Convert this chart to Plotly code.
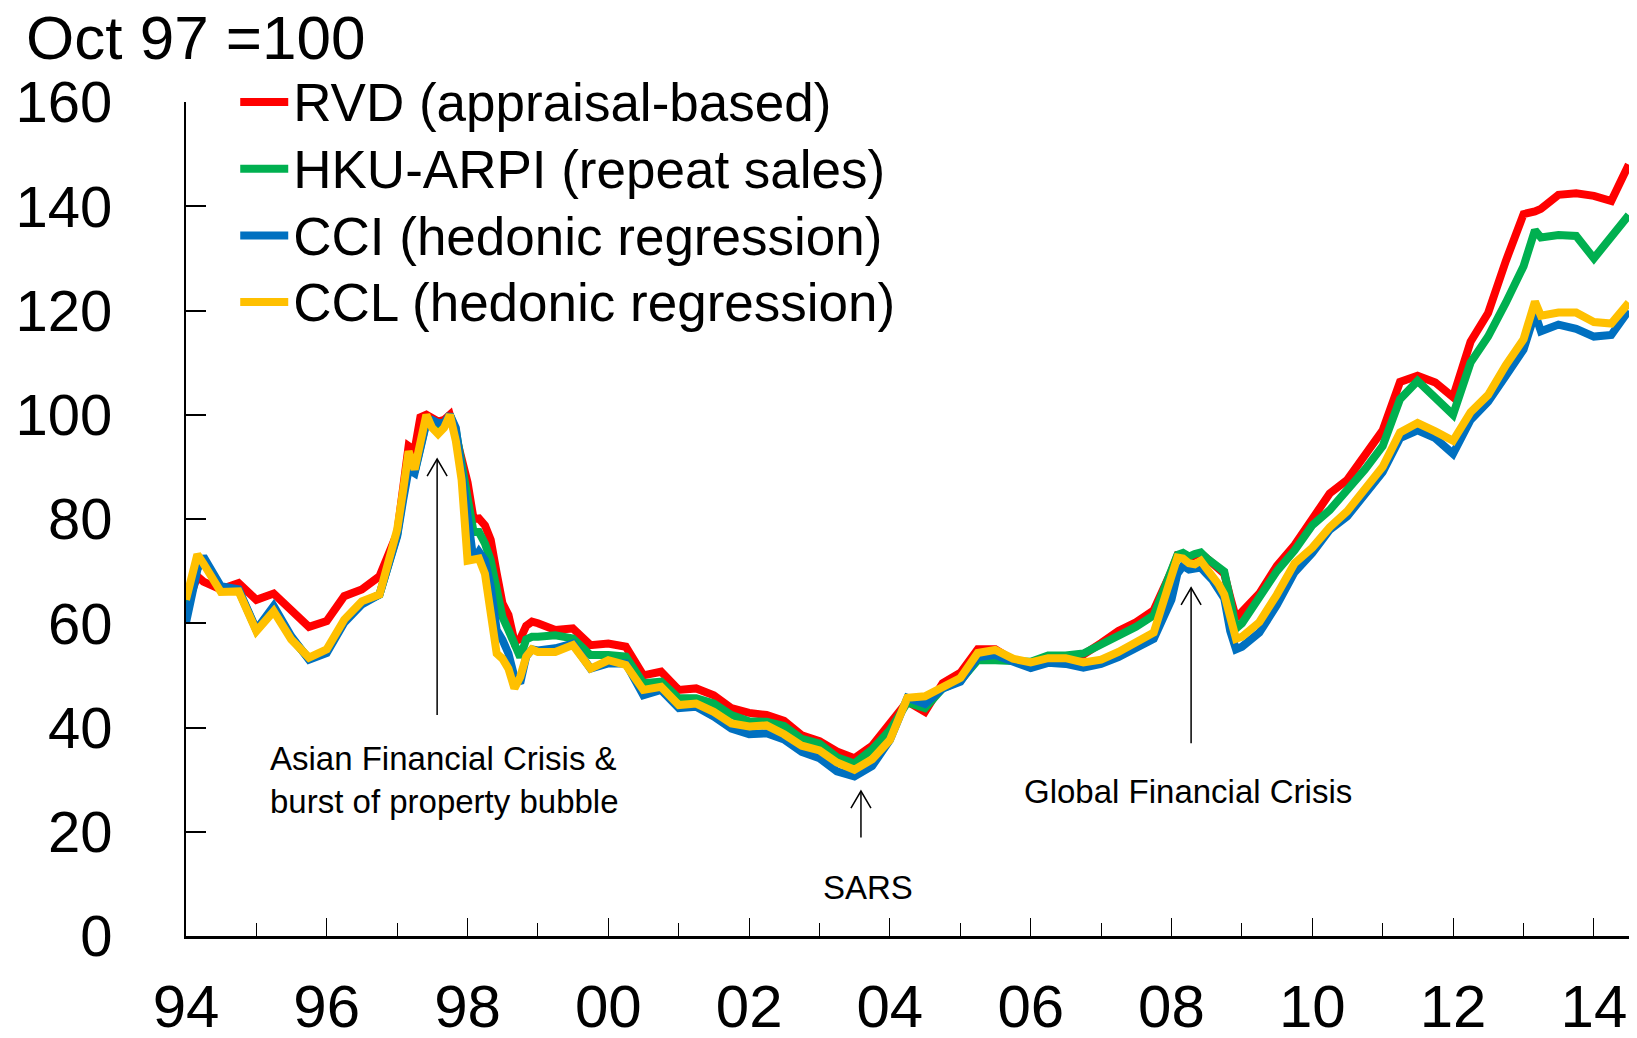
import plotly.graph_objects as go

dates = (
    ["1994-01", "1994-03", "1994-04", "1994-07", "1994-10",
     "1995-01", "1995-04", "1995-07", "1995-10",
     "1996-01", "1996-04", "1996-07", "1996-10"]
    + ["1997-%02d" % m for m in range(1, 13)]
    + ["1998-%02d" % m for m in range(1, 13)]
    + ["1999-01", "1999-04", "1999-07", "1999-10",
       "2000-01", "2000-04", "2000-07", "2000-10",
       "2001-01", "2001-04", "2001-07", "2001-10"]
    + ["%d-%s" % (y, m) for y in range(2002, 2008) for m in ("01", "04", "07", "10")]
    + ["2008-%02d" % m for m in range(1, 13)]
    + ["2009-01", "2009-04", "2009-07", "2009-10"]
    + ["%d-%s" % (y, m) for y in range(2010, 2013) for m in ("01", "04", "07", "10")]
    + ["2013-01", "2013-03", "2013-04", "2013-07", "2013-10"]
    + ["2014-01", "2014-04", "2014-07"]
)

rvd = [63, 69, 68, 66.5, 67.7,
       64.5, 65.7, 62.3, 59.3,
       60.4, 65.2, 66.5, 69,
       77.3, 85.6, 94, 93.2, 99.5, 100, 99.5, 98.7, 99, 100, 96, 91,
       87, 80, 80.1, 78.8, 76, 69.6, 63.8, 61.6, 56.5, 57, 59.5, 60.3,
       60, 58.7, 59, 55.8,
       56.1, 55.5, 50, 50.7,
       47.2, 47.5, 46.2, 43.7,
       42.8, 42.4, 41.3, 38.5,
       37.4, 35.4, 34.1, 36.5,
       40.8, 45, 43, 48.5,
       50.5, 55, 55, 52.9,
       51.5, 53.6, 53.6, 54,
       56.2, 58.5, 60.2, 62.5,
       70, 73, 72.8, 72.6, 73, 73.4, 72.5, 71.5, 70.5, 69.5, 65, 61,
       62.2, 65.7, 71, 75,
       80, 84.9, 87.5, 92,
       97, 106.3, 107.5, 106.2,
       103.4, 114, 119.5, 129.5,
       138.5, 139, 139.5, 142.2, 142.5,
       142, 141, 148]

hku = [62, 71.5, 72, 66.8, 66.3,
       58.7, 63, 57.2, 53.2,
       54.6, 60.4, 63.9, 65.5,
       77, 84.5, 91, 89, 94, 98.7, 98.5, 97.5, 98, 100, 97, 91,
       85, 77.5, 77.5, 75.3, 72.1, 67, 61.2, 58.7, 55.5, 53.5, 56.9, 57.4,
       57.4, 57.7, 57.1, 53.9,
       53.9, 53.6, 48.5, 48.8,
       45.6, 45.6, 44.6, 42.4,
       41.2, 41.1, 40.3, 37.8,
       36.9, 34.3, 33.1, 35.8,
       39.5, 44.8, 43.7, 47.5,
       49, 52.9, 52.9, 52.6,
       52.6, 53.8, 53.8, 54.2,
       55.8, 57.7, 59.3, 61.5,
       69.5, 73.1, 73.5, 72.8, 73.3, 73.6, 72.5, 71.5, 70.5, 69.9, 64.5, 59,
       60, 65, 70, 74,
       78.8, 81.7, 85.5, 89.5,
       94, 103, 106.5, 103,
       100, 110, 115, 121.5,
       128.5, 135.4, 134, 134.5, 134.3,
       130, 134, 138.3]

cci = [60.1, 70.3, 72.8, 67.1, 66.5,
       58.8, 63.3, 57.5, 53,
       54.3, 60.1, 63.6, 65.5,
       76.7, 83.7, 89.5, 88.8, 93.3, 98.4, 99, 98.4, 98.4, 100, 97.5, 89,
       82, 72, 73.7, 72.1, 67, 58.7, 56.8, 54.2, 49.7, 48.5, 53.6, 55,
       54.8, 55.2, 56.1, 51.3,
       52.3, 52.3, 46.2, 47.2,
       43.7, 44, 42.1, 39.8,
       38.7, 38.9, 37.7, 35.3,
       34.1, 31.6, 30.6, 32.6,
       37.6, 45.7, 44.5, 47.5,
       48.8, 53.5, 53.9, 52.6,
       51.4, 52.4, 52.2, 51.5,
       52.2, 53.5, 55.2, 57,
       64.5, 69.5, 71, 70.3, 70.5, 70.7, 69.5, 68.3, 66.5, 64.8, 58.5, 55,
       55.5, 58.2, 63.5, 69.8,
       73.5, 77.9, 80.5, 84.5,
       89, 95.5, 97, 95.5,
       92.5, 99, 102.5, 107.5,
       112.5, 119.4, 116, 117.3, 116.5,
       115, 115.3, 120]

ccl = [64.5, 73.2, 71.5, 66, 66.1,
       58.5, 62.3, 56.9, 53.4,
       55, 60.7, 64.2, 65.5,
       78, 85.6, 93, 89.5, 95, 100, 97.5, 96.3, 97.5, 100, 95, 87.5,
       72, 72.1, 72.4, 69.5, 61.9, 54.2, 53.2, 51.3, 47.5, 49.7, 53.6, 55,
       54.5, 54.5, 55.8, 51.3,
       52.9, 52, 47.2, 47.8,
       44.3, 44.6, 43, 40.8,
       40.2, 40.4, 38.7, 36.5,
       35.6, 33.3, 31.9, 33.9,
       37.6, 45.7, 46, 47.8,
       49.5, 54.3, 54.9, 53.2,
       52.5, 53.3, 53.3, 52.5,
       53, 54.5, 56.2, 58.2,
       69, 72.6, 72.4, 71.5, 71.3, 72, 70.5, 69.2, 67.5, 65.5, 60.5, 57,
       57.4, 60.2, 65.5, 71.5,
       74.5, 78.4, 81.5, 85.5,
       90, 96.6, 98.4, 96.8,
       95, 100.5, 103.8, 109.5,
       114.5, 121.7, 119, 119.6, 119.6,
       117.8, 117.5, 121.5]

series_names = ["RVD (appraisal-based)", "HKU-ARPI (repeat sales)",
                "CCI (hedonic regression)", "CCL (hedonic regression)"]
series_colors = ["#FF0000", "#00B050", "#0070C0", "#FFC000"]

# annotation arrows: (x date, head value, tail value)
arrows = [("1997-07-27", 91.5, 42.4), ("2003-08-04", 27.8, 18.9), ("2008-04-12", 66.8, 37.0)]

FONT = "Liberation Sans, Arial, Helvetica, sans-serif"

fig = go.Figure()
for name, vals, col in zip(series_names, [rvd, hku, cci, ccl], series_colors):
    fig.add_trace(go.Scatter(x=dates, y=vals, mode="lines",
                             name='<span style="font-size:53px">%s</span>' % name,
                             line=dict(color=col, width=8)))

shapes = []
for x, head, tail in arrows:
    shapes.append(dict(type="line", xref="x", yref="y", x0=x, x1=x, y0=tail, y1=head,
                       line=dict(color="black", width=1.5)))
    shapes.append(dict(type="path", xref="x", yref="y", xsizemode="pixel", ysizemode="pixel",
                       xanchor=x, yanchor=head, path="M-10,-17 L0,0 L10,-17",
                       line=dict(color="black", width=1.5)))

annotations = [
    dict(text="Oct 97 =100", xref="paper", yref="paper", x=-0.112, y=1.077,
         xanchor="left", yanchor="middle", showarrow=False, font=dict(size=62, color="black", family=FONT)),
    dict(text="Asian Financial Crisis &<br>burst of property bubble", xref="x", yref="y",
         x="1995-03-05", y=30, xanchor="left", yanchor="middle", align="left", showarrow=False,
         font=dict(size=33, color="black", family=FONT)),
    dict(text="SARS", xref="x", yref="y", x="2003-09-12", y=9.4, xanchor="center", yanchor="middle",
         showarrow=False, font=dict(size=33, color="black", family=FONT)),
    dict(text="Global Financial Crisis", xref="x", yref="y", x="2008-03-25", y=27.8,
         xanchor="center", yanchor="middle", showarrow=False, font=dict(size=33, color="black", family=FONT)),
]

# the page body adds an 8px offset, so the figure is sized/margined to compensate
fig.update_layout(
    width=1629, height=1030,
    margin=dict(l=178, r=3, t=94, b=102, autoexpand=False),
    paper_bgcolor="white", plot_bgcolor="white",
    font=dict(family=FONT, color="black"),
    showlegend=True,
    legend=dict(x=0.034, y=1.046, xanchor="left", yanchor="top", bgcolor="rgba(0,0,0,0)",
                font=dict(size=49, color="black", family=FONT), itemwidth=48,
                tracegroupgap=0),
    shapes=shapes,
    annotations=annotations,
    xaxis=dict(type="date", range=["1994-01-01", "2014-07-28"],
               tick0="1994-01-01", dtick="M24", tickformat="%y",
               ticks="inside", ticklen=18, tickwidth=1, tickcolor="black",
               showline=True, linecolor="black", linewidth=3,
               showgrid=False, zeroline=False, automargin=False,
               tickfont=dict(size=60, color="black", family=FONT),
               ticklabelstandoff=16,
               minor=dict(dtick="M12", tick0="1994-01-01", ticks="inside", ticklen=13,
                          tickwidth=1, tickcolor="black", showgrid=False)),
    yaxis=dict(range=[0, 160], dtick=20, tick0=0,
               ticks="inside", ticklen=20, tickwidth=2, tickcolor="black",
               showline=True, linecolor="black", linewidth=2,
               showgrid=False, zeroline=False, automargin=False,
               tickfont=dict(size=58, color="black", family=FONT),
               ticklabelstandoff=60),
)

fig.write_html("out.html")
